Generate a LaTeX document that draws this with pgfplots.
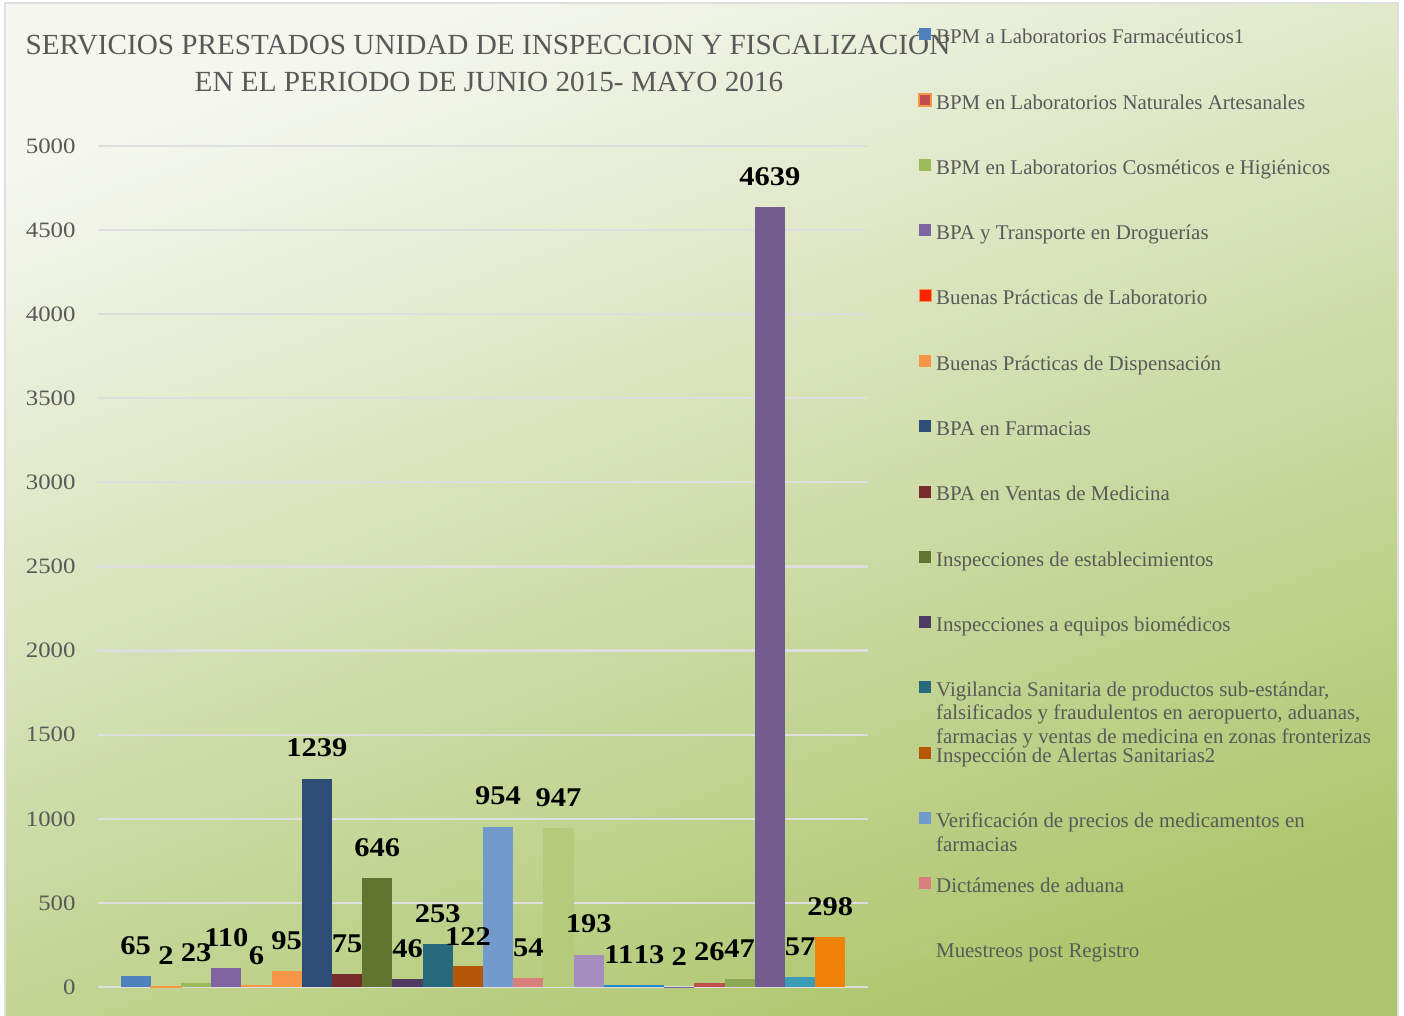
\documentclass[border=0pt]{standalone}
\usepackage{fontspec}
\setmainfont{Liberation Serif}
\newfontfamily\numfont[FakeStretch=1.13]{Liberation Serif}
\usepackage{pgfplots}
\pgfplotsset{compat=1.18}
\definecolor{txt}{HTML}{595959}
\definecolor{gridc}{HTML}{DEDEDE}
\definecolor{bgA}{HTML}{F5F7EF}
\definecolor{bgB}{HTML}{D8E3BB}
\definecolor{bgC}{HTML}{AEC66D}
\definecolor{cA}{HTML}{4F81BD}
\definecolor{cB}{HTML}{C0504D}
\definecolor{cBo}{HTML}{F79646}
\definecolor{cC}{HTML}{9BBB59}
\definecolor{cD}{HTML}{8064A2}
\definecolor{cE}{HTML}{FF2200}
\definecolor{cF}{HTML}{F79646}
\definecolor{cG}{HTML}{2C4D75}
\definecolor{cH}{HTML}{772C2A}
\definecolor{cI}{HTML}{5F7530}
\definecolor{cJ}{HTML}{4D3B62}
\definecolor{cK}{HTML}{276A7C}
\definecolor{cL}{HTML}{B65708}
\definecolor{cM}{HTML}{729ACA}
\definecolor{cN}{HTML}{D9807E}
\definecolor{cO}{HTML}{B3CB7B}
\definecolor{cP}{HTML}{A38EBF}
\definecolor{cQ}{HTML}{1F86CC}
\definecolor{cR}{HTML}{1E88C9}
\definecolor{cS}{HTML}{7A6699}
\definecolor{cT}{HTML}{C0504D}
\definecolor{cU}{HTML}{8EA953}
\definecolor{cV}{HTML}{735D8F}
\definecolor{cW}{HTML}{3D9CB5}
\definecolor{cX}{HTML}{EF8307}
\newcommand\labfont{\numfont\bfseries\fontsize{13.5}{16}\selectfont}
\pgfplotsset{
  sqlegend/.style={legend image code/.code={\path[##1] (0pt,-3pt) rectangle (6pt,3pt);}},
  mybar/.style={ybar, bar width=1, bar shift=0pt, draw=none, fill=#1, sqlegend, nodes near coords},
}
\begin{document}
\begin{tikzpicture}
\useasboundingbox (0,0) rectangle (702pt,508pt);
\shade[top color=bgA, middle color=bgB, bottom color=bgC, shading angle=20] (2.5pt,-1pt) rectangle (699pt,506.5pt);
\draw[gray!25, line width=0.8pt] (2.5pt,-1pt) rectangle (699pt,506.5pt);
\node[anchor=base, text=txt, font=\fontsize{14.6}{17}\selectfont] at (244pt,480.5pt) {SERVICIOS PRESTADOS UNIDAD DE INSPECCION Y FISCALIZACIÓN};
\node[anchor=base, text=txt, font=\fontsize{14.6}{17}\selectfont] at (244.5pt,462pt) {EN EL PERIODO DE JUNIO 2015- MAYO 2016};
\begin{axis}[
  at={(49pt,14.5pt)}, anchor=south west,
  scale only axis, width=385pt, height=420.5pt,
  xmin=-1.25, xmax=24.25, ymin=0, ymax=5000,
  ytick={0,500,...,5000}, xtick=\empty,
  ymajorgrids, grid style={draw=gridc, line width=1.1pt},
  axis line style={draw=none}, major tick length=0pt,
  yticklabel style={font=\numfont\fontsize{11}{13}\selectfont, text=txt, inner sep=0pt, xshift=-11pt},
  scaled y ticks=false,
  /pgf/number format/assume math mode=true, /pgf/number format/1000 sep={},
  every node near coord/.append style={font=\labfont, text=black, anchor=south, inner sep=0pt, yshift=10.5pt},
  legend style={at={(1.0649,1.1442)}, anchor=north west, draw=none, fill=none, inner sep=0pt,
    row sep=23.35pt, column sep=2pt, font=\fontsize{10.45}{12}\selectfont,
    nodes={inner sep=0pt, text height=9.3pt, text depth=0pt, text=txt}},
  legend cell align=left,
  clip=false,
]
\addplot[mybar=cA] coordinates {(0,65)};
\addlegendentry{BPM a Laboratorios Farmacéuticos1}
\addplot[mybar=cB, draw=cBo, line width=0.9pt] coordinates {(1,2)};
\addlegendentry{BPM en Laboratorios Naturales Artesanales}
\addplot[mybar=cC] coordinates {(2,23)};
\addlegendentry{BPM en Laboratorios Cosméticos e Higiénicos}
\addplot[mybar=cD] coordinates {(3,110)};
\addlegendentry{BPA y Transporte en Droguerías}
\addplot[mybar=cE, draw=cBo, line width=0.5pt] coordinates {(4,6)};
\addlegendentry{Buenas Prácticas de Laboratorio}
\addplot[mybar=cF] coordinates {(5,95)};
\addlegendentry{Buenas Prácticas de Dispensación}
\addplot[mybar=cG] coordinates {(6,1239)};
\addlegendentry{BPA en Farmacias}
\addplot[mybar=cH] coordinates {(7,75)};
\addlegendentry{BPA en Ventas de Medicina}
\addplot[mybar=cI] coordinates {(8,646)};
\addlegendentry{Inspecciones de establecimientos}
\addplot[mybar=cJ] coordinates {(9,46)};
\addlegendentry{Inspecciones a equipos biomédicos}
\addplot[mybar=cK] coordinates {(10,253)};
\addlegendentry{\parbox[t]{250pt}{\fontsize{10.45}{11.6}\selectfont Vigilancia Sanitaria de productos sub-estándar,\\falsificados y fraudulentos en aeropuerto, aduanas,\\farmacias y ventas de medicina en zonas fronterizas}}
\addplot[mybar=cL] coordinates {(11,122)};
\addlegendentry{Inspección de Alertas Sanitarias2}
\addplot[mybar=cM] coordinates {(12,954)};
\addlegendentry{\parbox[t]{250pt}{Verificación de precios de medicamentos en\\farmacias}}
\addplot[mybar=cN] coordinates {(13,54)};
\addlegendentry{Dictámenes de aduana}
\addplot[mybar=cO] coordinates {(14,947)};
\addlegendentry{Muestreos post Registro}
\addplot[mybar=cP, forget plot] coordinates {(15,193)};
\addplot[mybar=cQ, forget plot] coordinates {(16,11)};
\addplot[mybar=cR, forget plot] coordinates {(17,13)};
\addplot[mybar=cS, forget plot] coordinates {(18,2)};
\addplot[mybar=cT, forget plot] coordinates {(19,26)};
\addplot[mybar=cU, forget plot] coordinates {(20,47)};
\addplot[mybar=cV, forget plot] coordinates {(21,4639)};
\addplot[mybar=cW, forget plot] coordinates {(22,57)};
\addplot[mybar=cX, forget plot] coordinates {(23,298)};
\end{axis}
\end{tikzpicture}
\end{document}
